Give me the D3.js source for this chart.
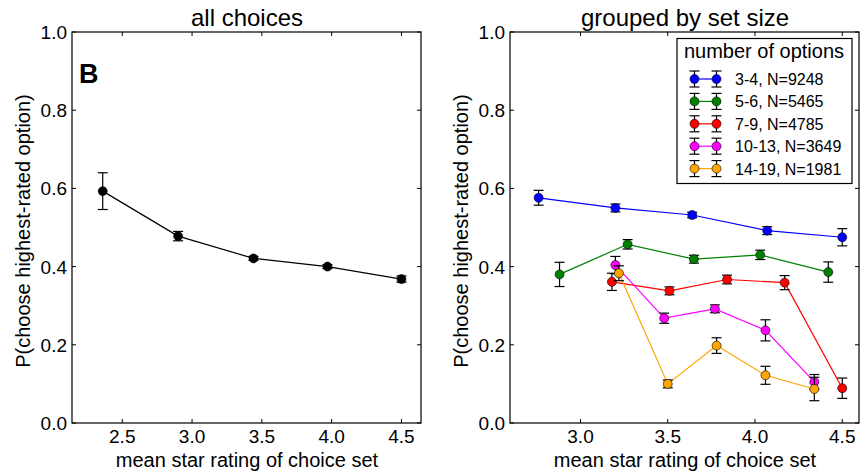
<!DOCTYPE html>
<html>
<head>
<meta charset="utf-8">
<script src="https://cdn.jsdelivr.net/npm/d3@7"></script>
<style>
  body { margin: 0; background: #fff; }
  svg text { font-family: "Liberation Sans", Arial, sans-serif; fill: #000; }
</style>
</head>
<body>
<div id="chart"></div>
<script>
// 1: DATA
const xTicksLeft = [2.5, 3.0, 3.5, 4.0, 4.5];
const xTicksRight = [3.0, 3.5, 4.0, 4.5];
const yTicks = [0.0, 0.2, 0.4, 0.6, 0.8, 1.0];

// all choices
const allX = [2.36, 2.90, 3.44, 3.97, 4.50];
const allY = [0.593, 0.478, 0.421, 0.400, 0.368];
const allErr = [0.047, 0.012, 0.005, 0.005, 0.008];

// grouped by set size
const groupNames = ["3-4, N=9248", "5-6, N=5465", "7-9, N=4785", "10-13, N=3649", "14-19, N=1981"];
const groupColors = ["#0000ff", "#008000", "#ff0000", "#ff00ff", "#ffa500"];
const groupX = [
    [2.76, 3.20, 3.64, 4.07, 4.50],
    [2.88, 3.27, 3.65, 4.03, 4.42],
    [3.18, 3.51, 3.84, 4.17, 4.50],
    [3.20, 3.48, 3.77, 4.06, 4.34],
    [3.22, 3.50, 3.78, 4.06, 4.34]
];
const groupY = [
    [0.576, 0.550, 0.532, 0.492, 0.475],
    [0.380, 0.457, 0.419, 0.430, 0.386],
    [0.361, 0.338, 0.367, 0.359, 0.089],
    [0.404, 0.268, 0.292, 0.237, 0.105],
    [0.383, 0.100, 0.198, 0.122, 0.087]
];
const groupErr = [
    [0.019, 0.010, 0.007, 0.010, 0.022],
    [0.031, 0.012, 0.010, 0.012, 0.026],
    [0.022, 0.010, 0.011, 0.018, 0.026],
    [0.022, 0.013, 0.010, 0.027, 0.019],
    [0.019, 0.010, 0.020, 0.023, 0.030]
];

// 2: LAYOUT
const W = 865, H = 475;
const svg = d3.select("#chart").append("svg")
    .attr("width", W)
    .attr("height", H);

const plotTop = 32, plotBottom = 423;
const yScale = d3.scaleLinear().domain([0, 1]).range([plotBottom, plotTop]);

const xLeft = d3.scaleLinear().domain([2.14, 4.64]).range([72, 421]);
const xRight = d3.scaleLinear().domain([2.596, 4.596]).range([510, 859]);

function drawFrame(x, ticks, title, cx) {
    const [x0, x1] = x.range();
    const g = svg.append("g");

    // ticks (inward, all four sides)
    ticks.forEach(t => {
        g.append("line").attr("x1", x(t)).attr("x2", x(t)).attr("y1", plotBottom).attr("y2", plotBottom - 4)
            .attr("stroke", "#000");
        g.append("line").attr("x1", x(t)).attr("x2", x(t)).attr("y1", plotTop).attr("y2", plotTop + 4)
            .attr("stroke", "#000");
        g.append("text").attr("x", x(t)).attr("y", plotBottom + 20)
            .attr("text-anchor", "middle").style("font-size", "19px")
            .text(d3.format(".1f")(t));
    });
    yTicks.forEach(t => {
        g.append("line").attr("x1", x0).attr("x2", x0 + 4).attr("y1", yScale(t)).attr("y2", yScale(t))
            .attr("stroke", "#000");
        g.append("line").attr("x1", x1).attr("x2", x1 - 4).attr("y1", yScale(t)).attr("y2", yScale(t))
            .attr("stroke", "#000");
        g.append("text").attr("x", x0 - 5).attr("y", yScale(t) + 7)
            .attr("text-anchor", "end").style("font-size", "19px")
            .text(d3.format(".1f")(t));
    });

    g.append("rect")
        .attr("x", x0).attr("y", plotTop)
        .attr("width", x1 - x0).attr("height", plotBottom - plotTop)
        .attr("fill", "none").attr("stroke", "#000").attr("stroke-width", 1.2);

    g.append("text").attr("x", cx).attr("y", 26)
        .attr("text-anchor", "middle").style("font-size", "24px")
        .text(title);

    g.append("text").attr("x", cx).attr("y", 467)
        .attr("text-anchor", "middle").style("font-size", "20px")
        .text("mean star rating of choice set");

    g.append("text")
        .attr("transform", `translate(${x0 - 42},231) rotate(-90)`)
        .attr("text-anchor", "middle").style("font-size", "20px")
        .text("P(choose highest-rated option)");
}

function drawSeries(x, xs, ys, errs, color, lineColor) {
    const pts = xs.map((d, i) => ({ x: d, y: ys[i], e: errs[i] }));
    const line = d3.line().x(d => x(d.x)).y(d => yScale(d.y));
    svg.append("path").datum(pts)
        .attr("fill", "none").attr("stroke", lineColor).attr("stroke-width", 1.2)
        .attr("d", line);

    const eb = svg.append("g").attr("stroke", "#000").attr("stroke-width", 1.2);
    pts.forEach(d => {
        const cx = x(d.x);
        eb.append("line").attr("x1", cx).attr("x2", cx)
            .attr("y1", yScale(d.y - d.e)).attr("y2", yScale(d.y + d.e));
        [d.y - d.e, d.y + d.e].forEach(v => {
            eb.append("line").attr("x1", cx - 5).attr("x2", cx + 5)
                .attr("y1", yScale(v)).attr("y2", yScale(v));
        });
    });

    svg.append("g").selectAll("circle").data(pts).join("circle")
        .attr("cx", d => x(d.x)).attr("cy", d => yScale(d.y))
        .attr("r", 4.5)
        .attr("fill", color).attr("stroke", "#000").attr("stroke-width", 0.6);
}

// 3: LEFT PANEL
drawFrame(xLeft, xTicksLeft, "all choices", 247);
drawSeries(xLeft, allX, allY, allErr, "#000", "#000");

svg.append("text").attr("x", 79).attr("y", 83)
    .style("font-size", "27px").style("font-weight", "bold")
    .text("B");

// 4: RIGHT PANEL
drawFrame(xRight, xTicksRight, "grouped by set size", 685);
groupNames.forEach((name, i) => {
    drawSeries(xRight, groupX[i], groupY[i], groupErr[i], groupColors[i], groupColors[i]);
});

// 5: LEGEND
const legend = svg.append("g");
legend.append("rect")
    .attr("x", 677).attr("y", 38.5)
    .attr("width", 175).attr("height", 145)
    .attr("fill", "#fff").attr("stroke", "#000").attr("stroke-width", 1.2);

legend.append("text").attr("x", 764).attr("y", 58)
    .attr("text-anchor", "middle").style("font-size", "20px")
    .text("number of options");

groupNames.forEach((name, i) => {
    const y = 79 + i * 22.4;
    const hx = [694.5, 716.5];
    legend.append("line").attr("x1", hx[0]).attr("x2", hx[1]).attr("y1", y).attr("y2", y)
        .attr("stroke", groupColors[i]).attr("stroke-width", 1.2);
    hx.forEach(cx => {
        legend.append("line").attr("x1", cx).attr("x2", cx).attr("y1", y - 8).attr("y2", y + 8)
            .attr("stroke", "#000").attr("stroke-width", 1.2);
        [y - 8, y + 8].forEach(v => {
            legend.append("line").attr("x1", cx - 5).attr("x2", cx + 5).attr("y1", v).attr("y2", v)
                .attr("stroke", "#000").attr("stroke-width", 1.2);
        });
        legend.append("circle").attr("cx", cx).attr("cy", y).attr("r", 4.5)
            .attr("fill", groupColors[i]).attr("stroke", "#000").attr("stroke-width", 0.6);
    });
    legend.append("text").attr("x", 735).attr("y", y + 6)
        .style("font-size", "16px")
        .text(name);
});
</script>
</body>
</html>
